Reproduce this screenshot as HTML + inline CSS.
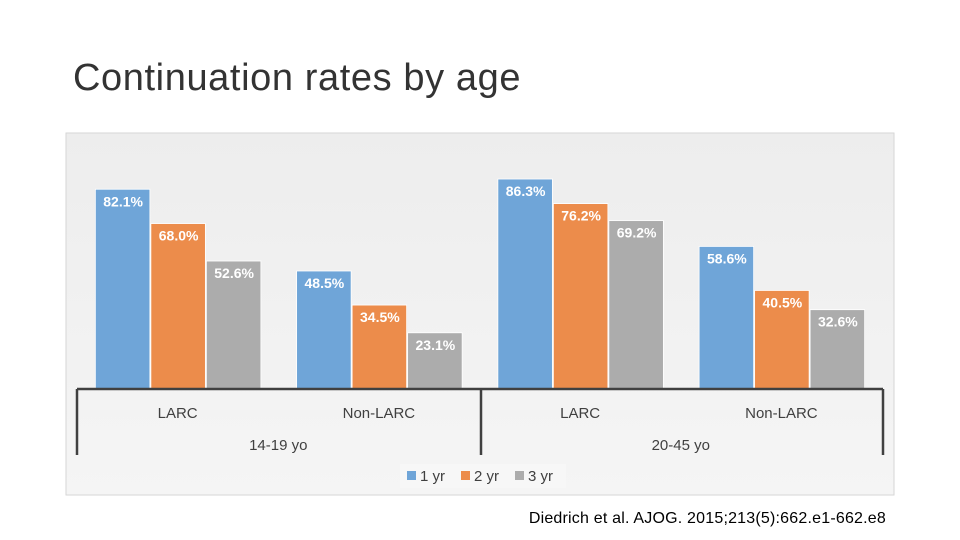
<!DOCTYPE html>
<html><head><meta charset="utf-8"><style>
body{margin:0;width:960px;height:540px;background:#fff;font-family:"Liberation Sans",sans-serif;overflow:hidden;position:relative}
#title{position:absolute;left:73px;top:57px;font-size:38px;color:#333;font-weight:300;letter-spacing:0.6px}
#cite{position:absolute;right:74px;top:510px;font-size:16px;color:#000;letter-spacing:0.2px}
</style></head><body>
<div id="title">Continuation rates by age</div>
<svg id="chart" width="960" height="540" style="position:absolute;left:0;top:0">
<defs><linearGradient id="bg" x1="0" y1="0" x2="0" y2="1"><stop offset="0" stop-color="#ededed"/><stop offset="1" stop-color="#f5f5f5"/></linearGradient></defs>
<rect x="66" y="133" width="828" height="362" fill="url(#bg)" stroke="#d6d6d6"/>
<g id="bars"></g><g id="axis"></g><g id="legend"></g>
</svg>
<div id="cite">Diedrich et al. AJOG. 2015;213(5):662.e1-662.e8</div>
<script>
const categories=["LARC","Non-LARC","LARC","Non-LARC"];
const groups=["14-19 yo","20-45 yo"];
const seriesNames=["1 yr","2 yr","3 yr"];
const yr1=[82.1,48.5,86.3,58.6];
const yr2=[68.0,34.5,76.2,40.5];
const yr3=[52.6,23.1,69.2,32.6];
const series=[yr1,yr2,yr3];
const colors=["#6fa5d8","#ec8c4b","#acacac"];
const NS="http://www.w3.org/2000/svg";
const base=389, pxPer=2.433, x0=77, catW=201.25, barW=55.5;
const y=v=>base-v*pxPer;
const catX=i=>x0+catW*i+catW/2;
function mk(t,a,p){const e=document.createElementNS(NS,t);for(const k in a)e.setAttribute(k,a[k]);p.appendChild(e);return e;}
const gb=document.getElementById('bars');
series.forEach((s,si)=>{s.forEach((v,ci)=>{
 const bx=catX(ci)-1.5*barW+si*barW+1;
 const r=mk('rect',{x:bx,y:y(v),width:barW-1,height:base-y(v),fill:colors[si],stroke:'#fff','stroke-width':0.8},gb);
 
 
 const t=mk('text',{x:bx+barW/2,y:y(v)+17,'text-anchor':'middle','font-size':14,'font-weight':'bold',fill:'#fff'},gb);
 t.textContent=v.toFixed(1)+'%';
 
 
});});
const ga=document.getElementById('axis');
const ax=mk('path',{d:`M${x0} ${base}H883M${x0} ${base}V455M481 ${base}V455M883 ${base}V455`,stroke:'#404040','stroke-width':2.5,fill:'none'},ga);


categories.forEach((c,i)=>{const t=mk('text',{x:catX(i),y:418,'text-anchor':'middle','font-size':15,fill:'#404040'},ga);t.textContent=c;
 
 });
groups.forEach((g,i)=>{const t=mk('text',{x:x0+catW*(2*i+1),y:450,'text-anchor':'middle','font-size':15,fill:'#404040'},ga);t.textContent=g;
 
 });
const gl=document.getElementById('legend');
const lb=mk('rect',{x:400,y:464,width:166,height:24,fill:'#f7f7f7'},gl);


seriesNames.forEach((n,i)=>{const lx=407+i*54;
 const sw=mk('rect',{x:lx,y:471,width:9,height:9,fill:colors[i]},gl);
 
 
 const t=mk('text',{x:lx+13,y:481,'font-size':15,fill:'#404040'},gl);t.textContent=n;
 
 });
</script>
</body></html>
